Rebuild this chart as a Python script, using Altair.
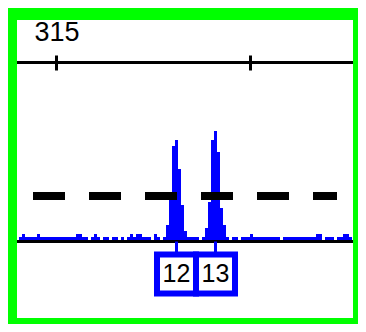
import altair as alt
import pandas as pd

# Signal (RFU) per sampled column along the size axis (bp)
signal = [
    45, 75, 45, 45, 45, 45, 75, 45, 45, 45,
    45, 45, 45, 45, 45, 45, 45, 45, 45, 75,
    75, 45, 45, 0, 45, 75, 45, 0, 45, 45,
    0, 45, 45, 0, 45, 0, 45, 75, 45, 75,
    75, 45, 45, 45, 0, 75, 45, 0, 45, 165,
    415, 955, 1015, 725, 365, 105, 45, 45, 45, 45,
    0, 45, 135, 395, 1015, 1105, 895, 335, 165, 45,
    0, 45, 45, 0, 45, 45, 45, 75, 45, 45,
    45, 45, 45, 45, 45, 45, 45, 0, 45, 45,
    45, 45, 45, 45, 45, 45, 45, 45, 45, 75,
    75, 0, 45, 45, 45, 0, 45, 45, 75, 75, 45,
]
bin_start = 311.114
bin_step = 0.3109

allele_labels = ["12", "13"]
allele_bp = [327.435, 331.477]

tick_values = [315, 335]
threshold = 455
threshold_from, threshold_to = 312.565, 344.067
top_line = 1790
label_row = -325

x_domain = [310.907, 345.725]
y_domain = [-765, 2215]

bars = pd.DataFrame({
    "x0": [bin_start + i * bin_step for i in range(len(signal))],
    "x1": [bin_start + (i + 1) * bin_step for i in range(len(signal))],
    "h": signal,
    "base": [0] * len(signal),
})

xs = alt.Scale(domain=x_domain, nice=False, zero=False)
ys = alt.Scale(domain=y_domain, nice=False, zero=False)

bar_layer = alt.Chart(bars).mark_rect(color="#0000ff").encode(
    x=alt.X("x0:Q", scale=xs, axis=alt.Axis(
        orient="top", offset=-50, values=tick_values,
        labelExpr="datum.value == 315 ? '315' : ''",
        domain=False, grid=False, tickSize=15, tickWidth=3,
        tickColor="black", labelFont="Liberation Sans", labelFontSize=27,
        labelColor="black", labelPadding=9, title=None,
        labelFlush=False, labelOverlap=False)),
    x2="x1:Q",
    y=alt.Y("h:Q", scale=ys, axis=None),
    y2="base:Q",
)

baseline = alt.Chart(pd.DataFrame({"y": [0]})).mark_rule(
    color="black", strokeWidth=3).encode(y=alt.Y("y:Q", scale=ys))

topline = alt.Chart(pd.DataFrame({"y": [top_line]})).mark_rule(
    color="black", strokeWidth=3).encode(y=alt.Y("y:Q", scale=ys))

dash = alt.Chart(pd.DataFrame({"y": [threshold], "a": [threshold_from], "b": [threshold_to]})).mark_rule(
    color="black", strokeWidth=8, strokeDash=[32, 24]).encode(
    x=alt.X("a:Q", scale=xs), x2="b:Q", y=alt.Y("y:Q", scale=ys))

alleles = pd.DataFrame({"x": allele_bp, "lab": allele_labels,
                        "y0": [0, 0], "yl": [label_row, label_row]})

connectors = alt.Chart(alleles).mark_rule(color="#0000ff", strokeWidth=3).encode(
    x=alt.X("x:Q", scale=xs), y=alt.Y("y0:Q", scale=ys), y2="yl:Q")

boxes = alt.Chart(alleles).mark_square(
    size=1521, fill="white", stroke="#0000ff", strokeWidth=6, opacity=1, fillOpacity=1).encode(
    x=alt.X("x:Q", scale=xs), y=alt.Y("yl:Q", scale=ys))

texts = alt.Chart(alleles).mark_text(
    font="Liberation Sans", fontSize=25, color="black", align="center", baseline="middle").encode(
    x=alt.X("x:Q", scale=xs), y=alt.Y("yl:Q", scale=ys), text="lab:N")

chart = alt.layer(bar_layer, baseline, topline, dash, connectors, boxes, texts).properties(
    width=336, height=298,
    autosize=alt.AutoSizeParams(type="none"),
    padding={"left": 9, "top": 12, "right": 5, "bottom": 6},
    background="#00ff00",
).configure_view(fill="white", strokeWidth=0)

chart.save("out.html", embed_options={"renderer": "svg", "actions": False})
